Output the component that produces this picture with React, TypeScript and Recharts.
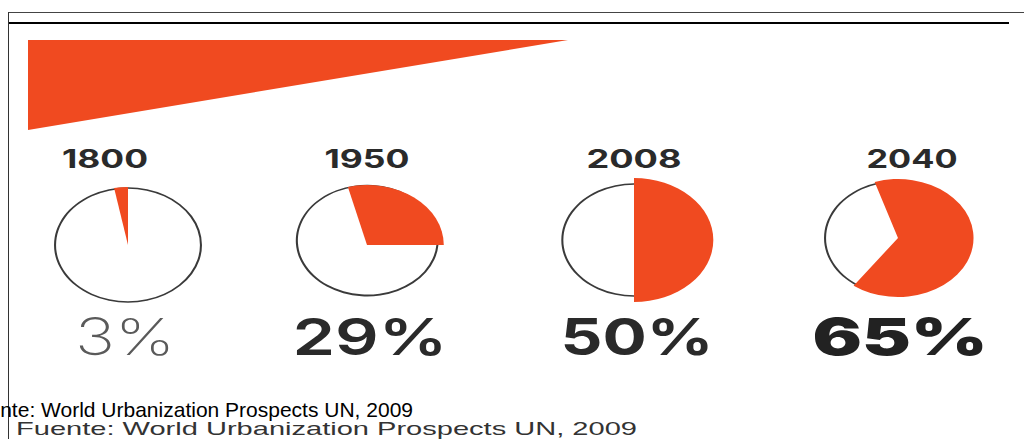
import { AreaChart, Area, XAxis, YAxis, PieChart, Pie, Cell } from 'recharts';

// ─── data ─────────────────────────────────────────────────────────────
const YEARS = ['1800', '1950', '2008', '2040'];
const URBAN_SHARE = [3, 29, 50, 65]; // % of population living in cities
const SOURCE = 'Fuente: World Urbanization Prospects UN, 2009';

// decorative banner wedge (full depth on the left, nothing on the right)
const BANNER_POS = [0, 1];
const BANNER_DEPTH = [1, 0];

// ─── layout / style ───────────────────────────────────────────────────
const RED = '#f04a20';
const INK = '#2a2a2a';
const SX = 1.28; // pies are drawn as ellipses
const PIE_CX = [128, 367, 634, 898];
const PIE_CY = [245, 245, 240, 238];
const RING_R = [57, 55, 56, 57];
const FILL_R = [58, 60, 62, 59];
const START = [90, 0, -90, -126];

const YEAR_X = [105, 367, 634, 912];
const YEAR_W = [86, 85, 95, 91];
const PCT_X = [125, 370, 637, 900];
const PCT_W = [100, 155, 153, 175];
const PCT_WEIGHT = [200, 600, 700, 900];
const PCT_FILL = ['#5a5a5a', INK, INK, '#222'];

const bannerData = BANNER_POS.map((x, i) => ({ x, depth: BANNER_DEPTH[i] }));

export default function App() {
  return (
    <div
      style={{
        position: 'absolute',
        left: 0,
        top: 0,
        width: 1024,
        height: 439,
        overflow: 'hidden',
        background: '#fff',
      }}
    >
      {/* frame */}
      <div style={{ position: 'absolute', left: 8, top: 12, width: 1016, height: 1, background: '#444' }} />
      <div style={{ position: 'absolute', left: 8, top: 22, width: 1001, height: 2, background: '#000' }} />
      <div style={{ position: 'absolute', left: 8, top: 12, width: 1, height: 427, background: '#333' }} />

      {/* banner */}
      <div style={{ position: 'absolute', left: 28, top: 40 }}>
        <AreaChart width={540} height={90} data={bannerData} margin={{ top: 0, right: 0, bottom: 0, left: 0 }}>
          <XAxis dataKey="x" type="number" domain={[0, 1]} hide />
          <YAxis type="number" domain={[0, 1]} reversed hide />
          <Area
            type="linear"
            dataKey="depth"
            fill={RED}
            fillOpacity={1}
            stroke="none"
            isAnimationActive={false}
          />
        </AreaChart>
      </div>

      {/* pies */}
      <div
        style={{
          position: 'absolute',
          left: 0,
          top: 0,
          width: 1024 / SX,
          height: 439,
          transform: `scaleX(${SX})`,
          transformOrigin: '0 0',
        }}
      >
        <PieChart width={1024 / SX} height={439} margin={{ top: 0, right: 0, bottom: 0, left: 0 }}>
          {YEARS.map((year, i) => (
            <Pie
              key={`ring-${year}`}
              data={[{ name: year, value: 1 }]}
              dataKey="value"
              cx={PIE_CX[i] / SX}
              cy={PIE_CY[i]}
              innerRadius={RING_R[i] - 0.8}
              outerRadius={RING_R[i] + 0.8}
              fill="#3a3a3a"
              stroke="none"
              isAnimationActive={false}
            />
          ))}
          {YEARS.map((year, i) => (
            <Pie
              key={`share-${year}`}
              data={[
                { name: 'urbana', value: URBAN_SHARE[i] },
                { name: 'rural', value: 100 - URBAN_SHARE[i] },
              ]}
              dataKey="value"
              cx={PIE_CX[i] / SX}
              cy={PIE_CY[i]}
              outerRadius={FILL_R[i]}
              startAngle={START[i]}
              endAngle={START[i] + 360}
              stroke="none"
              isAnimationActive={false}
            >
              <Cell fill={RED} />
              <Cell fill="transparent" />
            </Pie>
          ))}
        </PieChart>
      </div>

      {/* labels */}
      <svg width={1024} height={439} style={{ position: 'absolute', left: 0, top: 0 }}>
        {YEARS.map((year, i) => (
          <text
            key={year}
            x={YEAR_X[i]}
            y={168}
            textAnchor="middle"
            textLength={YEAR_W[i]}
            lengthAdjust="spacingAndGlyphs"
            fontFamily="Inter, 'Liberation Sans', sans-serif"
            fontWeight={700}
            fontSize={25}
            fill={INK}
          >
            {year}
          </text>
        ))}
        {URBAN_SHARE.map((v, i) => (
          <text
            key={`pct-${i}`}
            x={PCT_X[i]}
            y={355}
            textAnchor="middle"
            textLength={PCT_W[i]}
            lengthAdjust="spacingAndGlyphs"
            fontFamily="Inter, 'Liberation Sans', sans-serif"
            fontWeight={PCT_WEIGHT[i]}
            fontSize={51}
            fill={PCT_FILL[i]}
          >
            {`${v}%`}
          </text>
        ))}
        <text
          x={16}
          y={435}
          textLength={621}
          lengthAdjust="spacingAndGlyphs"
          fontFamily="'Liberation Sans', Arial, sans-serif"
          fontSize={19}
          fill="#333"
        >
          {SOURCE}
        </text>
        <text x={-36} y={417} fontFamily="'Liberation Sans', Arial, sans-serif" fontSize={21} fill="#000">
          {SOURCE}
        </text>
      </svg>
    </div>
  );
}
